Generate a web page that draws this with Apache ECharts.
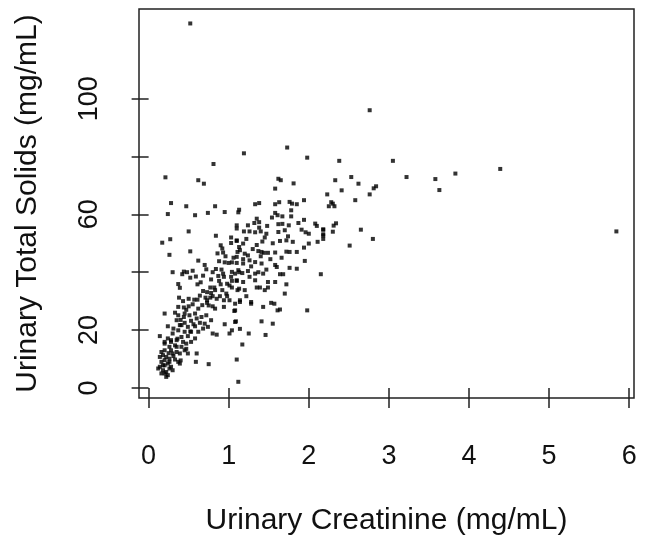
<!DOCTYPE html>
<html>
<head>
<meta charset="utf-8">
<script src="https://cdn.jsdelivr.net/npm/echarts@6/dist/echarts.min.js"></script>
<style>
  html, body { margin: 0; padding: 0; background: #fff; }
  #chart { width: 647px; height: 549px; }
</style>
</head>
<body>
<div id="chart"></div>
<script>
const creatinine = [
  // upper outliers and right tail
  0.52, 2.76, 2.38, 3.05, 4.39, 3.83, 2.53, 3.22, 3.58, 3.63, 2.33, 2.62, 2.41, 2.84, 2.81,
  2.76, 2.23, 2.58, 2.28, 2.25, 2.32, 2.30, 2.34, 2.31, 2.18, 2.30, 2.65, 2.18, 2.18, 2.80,
  2.51, 5.84,
  // 1.1 - 2.2, 60 - 85
  1.19, 1.73, 1.98, 1.62, 1.65, 1.81, 1.58, 1.94, 1.76, 1.79, 1.85, 1.63, 1.58, 1.33, 1.38,
  1.13, 1.12, 1.58, 1.78,
  // 0.1 - 1.0, 60 - 80
  0.81, 0.21, 0.62, 0.69, 0.28, 0.47, 0.83, 0.24, 0.58, 0.74, 0.95,
  // 1.1 - 2.2, 29 - 60
  1.61, 1.67, 1.78, 1.94, 1.54, 1.10, 1.24, 1.32, 1.38, 1.38, 1.19, 1.26, 1.33, 1.40, 1.47,
  1.62, 1.67, 1.75, 1.87, 1.91, 1.96, 2.00, 1.74, 1.72, 1.64, 1.62, 2.08, 2.10, 2.18, 2.18,
  2.11, 2.00, 1.94, 1.10, 1.18, 1.13, 1.35, 1.42, 1.37, 1.41, 1.44, 1.49, 1.58, 1.72, 1.76,
  1.14, 1.20, 1.24, 1.10, 1.18, 1.26, 1.33, 1.41, 1.60, 1.76, 1.85, 1.95, 1.12, 1.17, 1.24,
  1.33, 1.37, 1.43, 1.47, 1.64, 1.68, 2.15, 1.10, 1.18, 1.26, 1.33, 1.49, 1.58, 1.72, 1.13,
  1.20, 1.35, 1.39, 1.45, 1.49, 1.70, 1.14, 1.22, 1.28, 1.53,
  1.22, 1.30, 1.45, 1.52, 1.28, 1.55, 1.40, 1.18, 1.48, 1.66, 1.80, 1.85, 1.70, 1.58, 1.35,
  // 0.1 - 1.1, 29 - 56
  0.50, 0.84, 1.10, 1.03, 1.10, 0.17, 0.27, 0.26, 0.52, 0.90, 0.92, 0.93, 1.03, 1.11, 0.88,
  0.95, 1.00, 1.04, 1.10, 0.30, 0.44, 0.48, 0.42, 0.52, 0.59, 0.68, 0.72, 0.84, 0.91, 0.93,
  0.94, 0.87, 1.04, 1.08, 1.13, 1.03, 0.37, 0.39, 0.61, 0.88, 0.90, 1.04, 1.10, 1.01, 1.04,
  1.11, 0.77, 0.82, 0.83, 0.73, 0.78, 0.92, 0.97, 0.38, 0.50, 0.57, 0.61, 0.64, 0.71, 0.77,
  0.80, 0.89, 0.98, 1.01, 1.08, 0.73, 0.85, 0.94,
  0.65, 0.70, 0.78, 0.62, 0.96, 0.80, 0.68, 0.98, 0.86, 1.06, 0.55, 0.75,
  // 1.1 - 2.0, 15 - 30
  1.14, 1.28, 1.43, 1.57, 1.61, 1.64, 1.98, 1.08, 1.09, 1.41, 1.55, 1.14, 1.25, 1.46, 1.17,
  // 0.1 - 1.1, 2 - 30
  0.37, 0.44, 0.50, 0.55, 0.62, 0.67, 0.73, 0.80, 0.83, 0.94, 1.07, 0.58, 0.51, 0.44, 0.37,
  0.60, 0.66, 0.72, 0.78, 0.70, 0.64, 0.53, 0.45, 0.39, 0.35, 0.49, 0.58, 0.68, 0.74, 0.53,
  0.45, 0.37, 0.30, 0.41, 0.49, 0.58, 0.35, 0.28, 0.24, 0.20, 0.26, 0.33, 0.41, 0.47, 0.53,
  0.20, 0.28, 0.35, 0.39, 0.45, 0.49, 0.18, 0.22, 0.26, 0.33, 0.37, 0.16, 0.20, 0.24, 0.28,
  0.14, 0.18, 0.22, 0.24, 0.16, 0.12, 0.39, 0.30,
  0.20, 0.24, 0.14, 0.60, 0.59, 0.75, 1.10, 1.12, 0.80, 0.85, 1.01, 1.04, 1.08, 0.95,
  0.28, 0.20, 0.35, 0.16, 0.30, 0.14, 0.20, 0.26, 0.18, 0.26, 0.20, 0.22, 0.43, 0.41, 0.62, 0.45,
  0.33, 0.40, 0.47, 0.52, 0.56, 0.31, 0.43, 0.36, 0.25, 0.31, 0.47, 0.40
];
const totalSolids = [
  126.0, 96.0, 78.5, 78.5, 75.7, 74.1, 72.9, 72.9, 72.2, 68.4, 71.8, 70.6, 68.3, 69.7, 69.0,
  66.9, 66.9, 64.9, 64.2, 62.8, 62.8, 63.7, 56.9, 56.1, 54.7, 54.0, 54.7, 52.7, 51.5, 51.5,
  49.2, 54.1,
  81.1, 83.1, 79.6, 72.3, 71.8, 70.7, 68.9, 64.9, 64.3, 63.7, 63.5, 64.2, 63.5, 63.5, 63.9,
  61.6, 60.7, 60.5, 61.4,
  77.4, 72.8, 71.8, 70.6, 63.9, 62.8, 62.8, 60.1, 59.7, 60.5, 60.8,
  59.7, 59.3, 59.3, 58.1, 58.9, 56.2, 56.2, 57.0, 57.3, 55.4, 54.1, 54.1, 53.8, 54.1, 53.3,
  56.6, 56.7, 56.2, 57.0, 54.7, 53.8, 53.3, 52.4, 51.0, 50.8, 53.9, 56.8, 56.0, 54.8, 53.1,
  50.5, 49.9, 48.5, 50.8, 49.9, 48.7, 49.4, 50.6, 47.3, 47.0, 46.7, 46.7, 46.8, 47.1, 47.0,
  47.6, 46.4, 45.8, 45.3, 43.0, 44.1, 43.5, 43.0, 41.8, 41.5, 41.2, 43.9, 40.7, 39.7, 40.4,
  39.5, 40.0, 39.5, 40.9, 39.3, 39.3, 39.3, 37.2, 36.6, 38.4, 37.2, 36.6, 36.6, 35.8, 34.3,
  33.8, 34.7, 34.7, 33.8, 34.7, 32.6, 30.3, 31.7, 29.7, 29.4,
  51.5, 48.0, 52.0, 44.5, 42.0, 50.0, 45.5, 44.5, 56.0, 45.0, 50.5, 47.0, 54.5, 42.5, 58.5,
  54.1, 52.6, 55.1, 52.0, 51.0, 50.2, 51.4, 46.0, 47.2, 49.3, 48.2, 46.8, 50.1, 47.0, 43.8,
  43.4, 43.2, 43.4, 43.2, 40.0, 40.2, 40.0, 39.3, 38.1, 38.5, 38.8, 41.0, 41.1, 40.9, 39.5,
  38.4, 38.7, 40.1, 39.5, 40.0, 38.4, 35.9, 34.6, 35.8, 37.0, 35.8, 37.0, 37.0, 35.4, 34.7,
  33.8, 34.7, 34.7, 33.8, 33.1, 32.8, 33.8, 32.6, 31.2, 30.8, 30.5, 30.5, 31.9, 31.2, 31.2,
  31.7, 31.7, 31.7, 30.3, 29.1, 30.3, 30.8, 30.3,
  36.5, 42.5, 37.5, 44.0, 45.5, 40.0, 33.5, 36.0, 46.5, 45.0, 40.5, 28.5,
  29.7, 29.1, 28.0, 29.1, 26.8, 27.1, 26.8, 26.8, 23.0, 23.0, 22.2, 20.4, 18.8, 18.3, 15.0,
  28.0, 27.8, 28.2, 28.9, 27.4, 28.6, 29.4, 28.2, 27.4, 28.0, 26.6, 25.7, 25.1, 24.5, 25.1,
  24.0, 24.5, 25.1, 23.4, 22.2, 22.5, 23.2, 22.5, 21.7, 23.4, 21.1, 21.3, 20.5, 21.1, 19.4,
  19.4, 19.9, 18.8, 17.6, 17.9, 17.1, 16.5, 15.9, 17.1, 15.3, 14.2, 14.7, 14.2, 15.3, 15.9,
  13.0, 13.0, 12.4, 11.9, 13.0, 11.9, 11.3, 10.7, 10.1, 9.8, 9.0, 9.0, 7.8, 8.4, 7.3,
  7.3, 6.1, 5.5, 4.4, 5.0, 6.7, 8.4, 6.1,
  25.7, 21.3, 17.9, 11.9, 9.0, 8.2, 9.8, 2.1, 18.8, 18.4, 18.8, 19.9, 22.8, 22.0,
  16.5, 15.9, 14.2, 12.4, 11.9, 10.7, 9.6, 9.0, 7.8, 6.7, 5.0, 3.8, 15.9, 21.7, 19.4, 25.7,
  26.0, 23.5, 27.0, 19.5, 22.0, 20.5, 30.0, 17.0, 12.0, 11.0, 13.5, 9.5
];
const xTicks = [0, 1, 2, 3, 4, 5, 6];
const yTicks = [0, 20, 40, 60, 80, 100];
const yLabels = [0, 20, 60, 100];

const points = creatinine.map((c, i) => [c, totalSolids[i]]);

const chart = echarts.init(document.getElementById('chart'));
const font = 'Liberation Sans, Arial, sans-serif';

chart.setOption({
  animation: false,
  grid: {
    left: 139,
    right: 13,
    top: 9,
    bottom: 151,
    show: true,
    borderColor: '#222',
    borderWidth: 1.5,
  },
  xAxis: {
    type: 'value',
    min: -0.12,
    max: 6.06,
    name: 'Urinary Creatinine (mg/mL)',
    nameLocation: 'middle',
    nameGap: 108,
    nameTextStyle: { fontFamily: font, fontSize: 30, color: '#111' },
    splitLine: { show: false },
    axisLine: { show: false },
    axisTick: { show: true, length: 20, customValues: xTicks, lineStyle: { color: '#222', width: 1.5 } },
    axisLabel: { customValues: xTicks, margin: 45, fontFamily: font, fontSize: 27, color: '#111' },
  },
  yAxis: {
    type: 'value',
    min: -3.5,
    max: 131,
    name: 'Urinary Total Solids (mg/mL)',
    nameLocation: 'middle',
    nameGap: 96,
    nameTextStyle: { fontFamily: font, fontSize: 30, color: '#111' },
    splitLine: { show: false },
    axisLine: { show: false },
    axisTick: { show: true, length: 17, customValues: yTicks, lineStyle: { color: '#222', width: 1.5 } },
    axisLabel: { customValues: yLabels, rotate: 90, margin: 36, fontFamily: font, fontSize: 27, color: '#111' },
  },
  series: [{
    type: 'scatter',
    data: points,
    symbol: 'rect',
    symbolSize: 4,
    itemStyle: { color: '#000' },
  }],
});
</script>
</body>
</html>
